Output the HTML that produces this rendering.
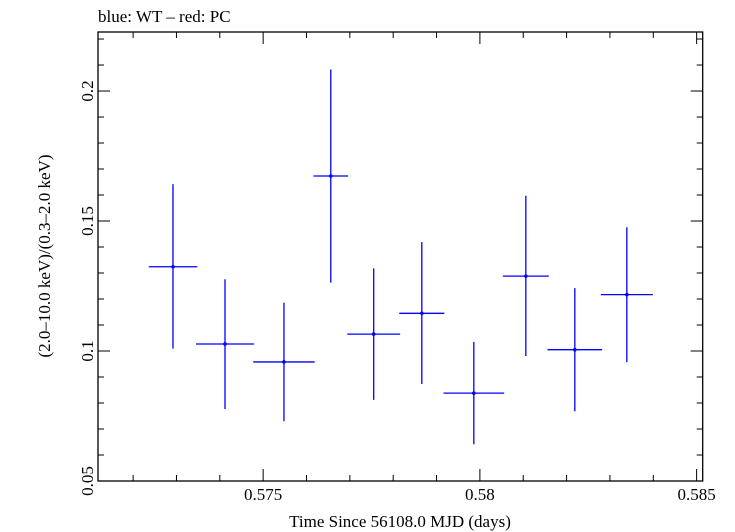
<!DOCTYPE html>
<html><head><meta charset="utf-8"><style>
body{margin:0;background:#fff}
svg{display:block;font-family:"Liberation Serif",serif}
</style></head><body>
<svg id="chart" width="735" height="532" viewBox="0 0 735 532" xmlns="http://www.w3.org/2000/svg">
<rect width="735" height="532" fill="#fff"/>
<text x="98" y="22" font-size="17">blue: WT – red: PC</text>
<g id="axes"></g>
<g id="marks"></g>
<text x="400" y="527" font-size="17" text-anchor="middle">Time Since 56108.0 MJD (days)</text>
<text transform="translate(50,256) rotate(-90)" font-size="17" text-anchor="middle">(2.0–10.0 keV)/(0.3–2.0 keV)</text>
</svg>
<script>
const times=[0.57292,0.57412,0.57548,0.57656,0.57755,0.57866,0.57986,0.58106,0.58219,0.58339];
const halfWidths=[0.00056,0.00067,0.00071,0.0004,0.00061,0.00052,0.0007,0.00053,0.00063,0.0006];
const ratios=[0.1324,0.1027,0.0958,0.1673,0.1065,0.1145,0.0838,0.1288,0.1005,0.1217];
const errUp=[0.1642,0.1276,0.1186,0.2083,0.1318,0.1419,0.1035,0.1597,0.1242,0.1476];
const errLo=[0.1009,0.0777,0.0730,0.1263,0.0812,0.0873,0.0641,0.0981,0.0768,0.0957];
const xTicks=[0.575,0.58,0.585];
const xTickLabels=["0.575","0.58","0.585"];
const yTicks=[0.05,0.1,0.15,0.2];
const yTickLabels=["0.05","0.1","0.15","0.2"];
const L=98,R=702.7,T=32,B=481;
const x0=0.57119,x1=0.58514,y0=0.05,y1=0.2227;
const X=v=>L+(v-x0)/(x1-x0)*(R-L);
const Y=v=>B-(v-y0)/(y1-y0)*(B-T);
const NS="http://www.w3.org/2000/svg";
function mk(tag,attrs,parent){const e=document.createElementNS(NS,tag);for(const k in attrs)e.setAttribute(k,attrs[k]);parent.appendChild(e);return e;}
const ax=document.getElementById('axes'),mg=document.getElementById('marks');
const frame=mk('rect',{x:L,y:T,width:R-L,height:B-T,fill:'none',stroke:'#000','stroke-width':1.3},ax);


// minor ticks
for(let v=0.572;v<=0.5851;v+=0.001){const px=X(v);const maj=Math.abs(v*1000-Math.round(v*200)*5)<1e-6;const len=maj?12:6;
mk('line',{x1:px,y1:B,x2:px,y2:B-len,stroke:'#000'},ax);mk('line',{x1:px,y1:T,x2:px,y2:T+len,stroke:'#000'},ax);}
for(let i=5;i<=22;i++){const v=i/100;const py=Y(v);const maj=i%5==0;const len=maj?12:6;
mk('line',{x1:L,y1:py,x2:L+len,y2:py,stroke:'#000'},ax);mk('line',{x1:R,y1:py,x2:R-len,y2:py,stroke:'#000'},ax);}
xTicks.forEach((v,i)=>{const t=mk('text',{x:X(v),y:B+19,'font-size':17,'text-anchor':'middle'},ax);t.textContent=xTickLabels[i];

});
yTicks.forEach((v,i)=>{const t=mk('text',{transform:`translate(${L-5},${Y(v)}) rotate(-90)`,'font-size':17,'text-anchor':'middle'},ax);t.textContent=yTickLabels[i];

});
times.forEach((t,i)=>{const g=mk('g',{stroke:'#0000ff','stroke-width':1.3},mg);


mk('line',{x1:X(t-halfWidths[i]),y1:Y(ratios[i]),x2:X(t+halfWidths[i]),y2:Y(ratios[i])},g);
mk('line',{x1:X(t),y1:Y(errUp[i]),x2:X(t),y2:Y(errLo[i])},g);
mk('circle',{cx:X(t),cy:Y(ratios[i]),r:1.8,fill:'#0000ff',stroke:'none'},g);});
</script>
</body></html>
